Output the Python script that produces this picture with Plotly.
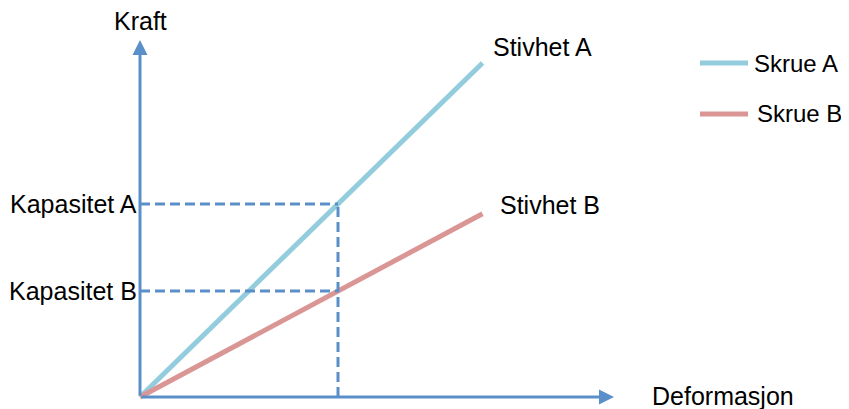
import plotly.graph_objects as go

# Data (abstract units)
series_names = ["Skrue A", "Skrue B"]
stiffness = [0.975, 0.535]          # slope of force vs deformation
deformation_end = 1.73              # end of the stiffness lines
deformation_capacity = 1.0          # deformation where capacities are read
capacity_labels = ["Kapasitet A", "Kapasitet B"]
stiffness_labels = ["Stivhet A", "Stivhet B"]
line_colors = ["#93cddd", "#d99694"]
axis_color = "#5b8fc9"
axis_x_label = "Deformasjon"
axis_y_label = "Kraft"

OFF = 8  # default body margin of the page
W, H = 849 - OFF, 409 - OFF
ox, oy, scale = 140 - OFF, 397 - OFF, 198.0
x_range = [-ox / scale, (W - ox) / scale]
y_range = [(oy - H) / scale, oy / scale]
x_axis_end = (614 - OFF - ox) / scale
y_axis_end = (oy - (40 - OFF)) / scale

FONT = "Liberation Sans, Arial, sans-serif"
fig = go.Figure()

for name, k, c in zip(series_names, stiffness, line_colors):
    fig.add_trace(go.Scatter(x=[0, deformation_end], y=[0, k * deformation_end],
                             mode="lines", line=dict(color=c, width=5),
                             name=name, showlegend=False, hoverinfo="skip"))

capacities = [k * deformation_capacity for k in stiffness]

dash = "10px,5px"
fig.add_trace(go.Scatter(x=[deformation_capacity, deformation_capacity], y=[0, max(capacities)],
                         mode="lines", line=dict(color=axis_color, width=3, dash=dash),
                         showlegend=False, hoverinfo="skip"))
for cap in capacities:
    fig.add_trace(go.Scatter(x=[0, deformation_capacity], y=[cap, cap],
                             mode="lines", line=dict(color=axis_color, width=3, dash=dash),
                             showlegend=False, hoverinfo="skip"))

ann = []
ann.append(dict(x=x_axis_end, y=0, ax=0, ay=0, xref="x", yref="y", axref="x", ayref="y",
                showarrow=True, arrowhead=2, arrowsize=1, arrowwidth=3, arrowcolor=axis_color, text=""))
ann.append(dict(x=0, y=y_axis_end, ax=0, ay=0, xref="x", yref="y", axref="x", ayref="y",
                showarrow=True, arrowhead=2, arrowsize=1, arrowwidth=3, arrowcolor=axis_color, text=""))

tf = dict(family=FONT, size=25, color="#000000")
lf = dict(family=FONT, size=24, color="#000000")
ann.append(dict(x=0, y=y_axis_end, xref="x", yref="y", text=axis_y_label, showarrow=False,
                xanchor="center", yanchor="bottom", yshift=3, font=tf))
ann.append(dict(x=x_axis_end, y=0, xref="x", yref="y", text=axis_x_label, showarrow=False,
                xanchor="left", yanchor="middle", xshift=36, yshift=1, font=tf))
for lab, cap in zip(capacity_labels, capacities):
    ann.append(dict(x=0, y=cap, xref="x", yref="y", text=lab, showarrow=False,
                    xanchor="right", yanchor="middle", xshift=-1, font=tf))
shifts = [(8, 16), (15, 9)]
for lab, k, (dx, dy) in zip(stiffness_labels, stiffness, shifts):
    ann.append(dict(x=deformation_end, y=k * deformation_end, xref="x", yref="y", text=lab,
                    showarrow=False, xanchor="left", yanchor="middle", xshift=dx, yshift=dy, font=tf))

shapes = []
leg = [(700, 748, 63, 752), (700, 748, 114, 755)]
for (x0, x1, py, tx), name, c in zip(leg, series_names, line_colors):
    x0, x1, py, tx = x0 - OFF, x1 - OFF, py - OFF, tx - OFF
    shapes.append(dict(type="line", xref="paper", yref="paper", x0=x0 / W, x1=x1 / W,
                       y0=1 - py / H, y1=1 - py / H, line=dict(color=c, width=5)))
    ann.append(dict(x=tx / W, y=1 - py / H, xref="paper", yref="paper", text=name, showarrow=False,
                    xanchor="left", yanchor="middle", font=lf))

fig.update_layout(
    width=W, height=H, margin=dict(l=0, r=0, t=0, b=0),
    paper_bgcolor="white", plot_bgcolor="white",
    xaxis=dict(range=x_range, visible=False, fixedrange=True),
    yaxis=dict(range=y_range, visible=False, fixedrange=True),
    annotations=ann, shapes=shapes, showlegend=False,
)
fig.write_html("out.html")
